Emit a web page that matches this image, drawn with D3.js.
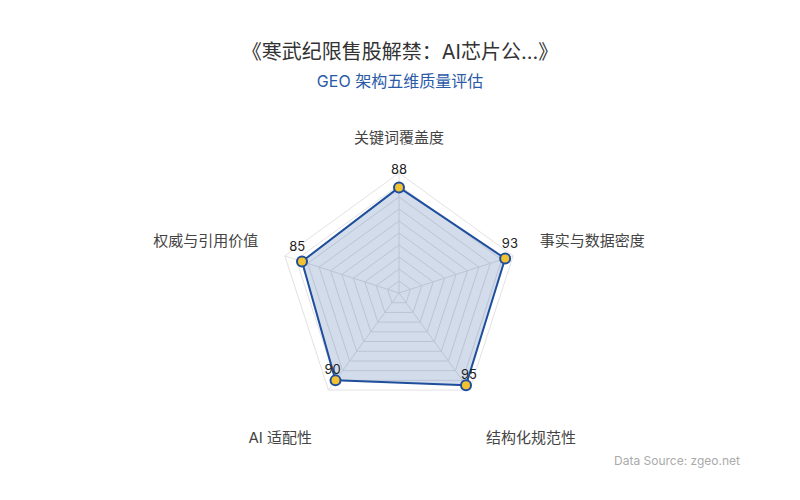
<!DOCTYPE html>
<html>
<head>
<meta charset="utf-8">
<script src="https://cdn.jsdelivr.net/npm/d3@7/dist/d3.min.js"></script>
<style>
  html, body { margin: 0; padding: 0; background: #fff; }
  svg { display: block; font-family: Inter, "Noto Sans CJK SC", sans-serif; }
</style>
</head>
<body>
<div id="chart"></div>
<script>
/* Radar GEO — cinco dimensões de qualidade */

const TITULO = "《寒武纪限售股解禁：AI芯片公...》";
const SUBTITULO = "GEO 架构五维质量评估";
const FONTE = "Data Source: zgeo.net";
const EIXOS = ["关键词覆盖度", "事实与数据密度", "结构化规范性", "AI 适配性", "权威与引用价值"];
const VALORES = [88, 93, 95, 90, 85];
const MAX = 100;
const NIVEIS = 10;

const W = 800, H = 500;
const CX = 399, CY = 293, R = 120;
const AZUL = "#1f4e9c", OURO = "#f2c230";

const svg = d3.select("#chart").append("svg")
  .attr("width", W).attr("height", H).attr("viewBox", `0 0 ${W} ${H}`);

svg.append("text").attr("x", W / 2).attr("y", 52)
  .attr("text-anchor", "middle").attr("dy", "0.35em")
  .style("font-size", "20px").attr("fill", "#333").text(TITULO);
svg.append("text").attr("x", W / 2).attr("y", 81)
  .attr("text-anchor", "middle").attr("dy", "0.35em")
  .style("font-size", "16px").attr("fill", "#2a5aa8").text(SUBTITULO);
svg.append("text").attr("x", 740).attr("y", 461)
  .attr("text-anchor", "end").attr("dy", "0.35em")
  .style("font-size", "12px").attr("fill", "#aaa").text(FONTE);

const ang = d3.scalePoint().domain(EIXOS).range([0, 2 * Math.PI * (EIXOS.length - 1) / EIXOS.length]);
const raio = d3.scaleLinear().domain([0, MAX]).range([0, R]);
// ângulo 0 = para cima, sentido horário
const pt = (eixo, r) => [CX + r * Math.sin(ang(eixo)), CY - r * Math.cos(ang(eixo))];

const g = svg.append("g");

// grade: anéis e raios
const niveis = d3.range(1, NIVEIS + 1).map((i) => (MAX / NIVEIS) * i);
g.selectAll("polygon.anel").data(niveis).join("polygon")
  .attr("class", "anel")
  .attr("points", (v) => EIXOS.map((e) => pt(e, raio(v))).join(" "))
  .attr("fill", "none").attr("stroke", "#e2e2e2").attr("stroke-width", 1);
g.selectAll("line.raio").data(EIXOS).join("line")
  .attr("class", "raio")
  .attr("x1", CX).attr("y1", CY)
  .attr("x2", (e) => pt(e, R)[0]).attr("y2", (e) => pt(e, R)[1])
  .attr("stroke", "#e2e2e2").attr("stroke-width", 1);

// nomes dos eixos
g.selectAll("text.nome").data(EIXOS).join("text")
  .attr("class", "nome")
  .attr("x", (e) => pt(e, R + 28)[0])
  .attr("y", (e) => {
    const c = Math.cos(ang(e));
    const y = pt(e, R + 28)[1];
    return c > 0 ? y - 7 : y + 25;
  })
  .attr("dy", "0.35em")
  .attr("text-anchor", (e) => {
    const s = Math.sin(ang(e));
    return Math.abs(s) < 0.01 ? "middle" : s > 0 ? "start" : "end";
  })
  .style("font-size", "15px").attr("fill", "#444").text((e) => e);

// série
const pontos = EIXOS.map((e, i) => ({ eixo: e, v: VALORES[i], p: pt(e, raio(VALORES[i])) }));
g.append("polygon")
  .attr("points", pontos.map((d) => d.p).join(" "))
  .attr("fill", AZUL).attr("fill-opacity", 0.2)
  .attr("stroke", AZUL).attr("stroke-width", 2).attr("stroke-linejoin", "round");
g.selectAll("circle.pt").data(pontos).join("circle")
  .attr("class", "pt")
  .attr("cx", (d) => d.p[0]).attr("cy", (d) => d.p[1]).attr("r", 5)
  .attr("fill", OURO).attr("stroke", AZUL).attr("stroke-width", 2);
g.selectAll("text.val").data(pontos).join("text")
  .attr("class", "val")
  .attr("x", (d) => d.p[0] + 5 * Math.sin(ang(d.eixo)))
  .attr("y", (d) => d.p[1] - (14 + 4 * Math.cos(ang(d.eixo))))
  .attr("dy", "0.35em").attr("text-anchor", "middle")
  .style("font-size", "13px").attr("fill", "#222").text((d) => d.v);
</script>
</body>
</html>
